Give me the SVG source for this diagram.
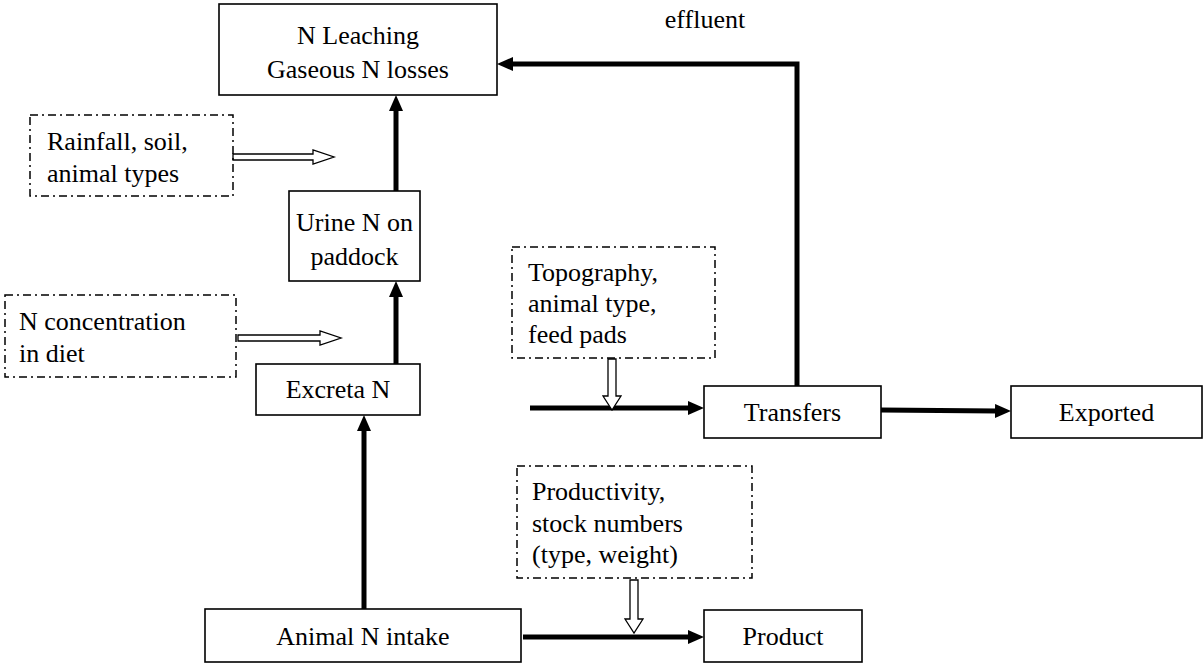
<svg xmlns="http://www.w3.org/2000/svg" width="1204" height="664" viewBox="0 0 1204 664">
<defs>
<marker id="ah" markerUnits="userSpaceOnUse" markerWidth="16" markerHeight="14" viewBox="0 0 16 14" refX="2" refY="7" orient="auto">
<path d="M0,0 L16,7 L0,14 z" fill="#000"/>
</marker>
</defs>
<rect width="1204" height="664" fill="#fff"/>
<g id="connectors" fill="none" stroke="#000">
<g stroke-width="5" marker-end="url(#ah)">
<path d="M797,386 V64 H511" marker-end="url(#ah)"/>
<path d="M396,191 V109" marker-end="url(#ah)"/>
<path d="M396,364 V295" marker-end="url(#ah)"/>
<path d="M364,609 V429" marker-end="url(#ah)"/>
<path d="M530,408 H690" marker-end="url(#ah)"/>
<path d="M881,410 L997,411" marker-end="url(#ah)"/>
<path d="M523,637 H690" marker-end="url(#ah)"/>
</g>
<g fill="#fff" stroke-width="1.3">
<polygon points="233,154 313,154 313,150 334,157 313,164 313,160 233,160"/>
<polygon points="238,335 320,335 320,331 341,338 320,345 320,341 238,341"/>
<polygon points="608,359 608,396 603,396 612,410 621,396 616,396 616,359"/>
<polygon points="630,580 630,619 625,619 634,633 643,619 638,619 638,580"/>
</g>
</g>
<g id="n-losses">
<rect x="219" y="4" width="278" height="91" fill="#fff" stroke="#000" stroke-width="1.6"/>
<text font-family="Liberation Serif" font-size="26" text-anchor="middle" x="358" y="44">N Leaching</text>
<text font-family="Liberation Serif" font-size="26" text-anchor="middle" x="358" y="78">Gaseous N losses</text>
</g>
<g id="effluent-label">
<text font-family="Liberation Serif" font-size="26" text-anchor="middle" x="705" y="28">effluent</text>
</g>
<g id="rainfall">
<rect x="30" y="115" width="203" height="81" fill="none" stroke="#000" stroke-width="1.5" stroke-dasharray="8 4 2 4"/>
<text font-family="Liberation Serif" font-size="26" x="47" y="150">Rainfall, soil,</text>
<text font-family="Liberation Serif" font-size="26" x="47" y="182">animal types</text>
</g>
<g id="urine">
<rect x="289" y="191" width="131" height="90" fill="#fff" stroke="#000" stroke-width="1.6"/>
<text font-family="Liberation Serif" font-size="26" text-anchor="middle" x="354.5" y="231">Urine N on</text>
<text font-family="Liberation Serif" font-size="26" text-anchor="middle" x="354.5" y="265">paddock</text>
</g>
<g id="n-conc">
<rect x="5" y="295" width="231" height="82" fill="none" stroke="#000" stroke-width="1.5" stroke-dasharray="8 4 2 4"/>
<text font-family="Liberation Serif" font-size="26" x="19" y="330">N concentration</text>
<text font-family="Liberation Serif" font-size="26" x="19" y="362">in diet</text>
</g>
<g id="topography">
<rect x="512" y="247" width="203" height="111" fill="none" stroke="#000" stroke-width="1.5" stroke-dasharray="8 4 2 4"/>
<text font-family="Liberation Serif" font-size="26" x="528" y="281">Topography,</text>
<text font-family="Liberation Serif" font-size="26" x="528" y="312">animal type,</text>
<text font-family="Liberation Serif" font-size="26" x="528" y="343">feed pads</text>
</g>
<g id="excreta">
<rect x="256" y="364" width="164" height="51" fill="#fff" stroke="#000" stroke-width="1.6"/>
<text font-family="Liberation Serif" font-size="26" text-anchor="middle" x="338" y="398">Excreta N</text>
</g>
<g id="transfers">
<rect x="704" y="386" width="177" height="52" fill="#fff" stroke="#000" stroke-width="1.6"/>
<text font-family="Liberation Serif" font-size="26" text-anchor="middle" x="792.5" y="421">Transfers</text>
</g>
<g id="exported">
<rect x="1011" y="386" width="191" height="52" fill="#fff" stroke="#000" stroke-width="1.6"/>
<text font-family="Liberation Serif" font-size="26" text-anchor="middle" x="1106.5" y="421">Exported</text>
</g>
<g id="productivity">
<rect x="517" y="466" width="235" height="112" fill="none" stroke="#000" stroke-width="1.5" stroke-dasharray="8 4 2 4"/>
<text font-family="Liberation Serif" font-size="26" x="532" y="500">Productivity,</text>
<text font-family="Liberation Serif" font-size="26" x="532" y="532">stock numbers</text>
<text font-family="Liberation Serif" font-size="26" x="532" y="563">(type, weight)</text>
</g>
<g id="animal-intake">
<rect x="205" y="609" width="316" height="53" fill="#fff" stroke="#000" stroke-width="1.6"/>
<text font-family="Liberation Serif" font-size="26" text-anchor="middle" x="363" y="645">Animal N intake</text>
</g>
<g id="product">
<rect x="704" y="610" width="158" height="52" fill="#fff" stroke="#000" stroke-width="1.6"/>
<text font-family="Liberation Serif" font-size="26" text-anchor="middle" x="783" y="645">Product</text>
</g>
</svg>
